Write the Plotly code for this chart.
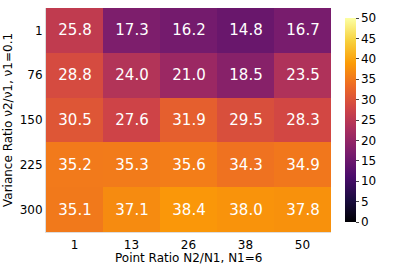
import plotly.graph_objects as go

x_labels = ["1", "13", "26", "38", "50"]
y_labels = ["1", "76", "150", "225", "300"]
values = [
    [25.8, 17.3, 16.2, 14.8, 16.7],
    [28.8, 24.0, 21.0, 18.5, 23.5],
    [30.5, 27.6, 31.9, 29.5, 28.3],
    [35.2, 35.3, 35.6, 34.3, 34.9],
    [35.1, 37.1, 38.4, 38.0, 37.8],
]
x_title = "Point Ratio N2/N1, N1=6"
y_title = "Variance Ratio ν2/ν1, ν1=0.1"

text = [[f"{v:.1f}" for v in row] for row in values]

fig = go.Figure(go.Heatmap(
    z=values, x=x_labels, y=y_labels,
    colorscale="Inferno", zmin=0, zmax=50,
    text=text, texttemplate="%{text}",
    textfont=dict(color="white", size=15, family="DejaVu Sans"),
    xgap=0, ygap=0,
    colorbar=dict(
        thickness=11, len=1.0, lenmode="fraction", x=1.0, xanchor="left", xpad=14,
        y=0.5, yanchor="middle",
        tickvals=list(range(0, 51, 5)), ticks="outside", ticklen=3,
        tickfont=dict(size=12, family="DejaVu Sans", color="black"),
        outlinewidth=0,
    ),
))

fig.update_layout(
    width=399, height=266,
    margin=dict(l=46, r=47, t=8, b=34),
    paper_bgcolor="white", plot_bgcolor="white",
    font=dict(family="DejaVu Sans", size=12, color="black"),
    xaxis=dict(showline=True, linecolor="#dddddd", linewidth=1, ticks="", showgrid=False,
               tickfont=dict(size=12), ticklabelstandoff=2, automargin=False),
    yaxis=dict(autorange="reversed",
               showline=True, linecolor="#dddddd", linewidth=1, ticks="", showgrid=False,
               tickfont=dict(size=12), automargin=False),
    annotations=[
        dict(text=x_title, xref="paper", yref="paper", x=0.5, y=0, yshift=-26,
             xanchor="center", yanchor="middle", showarrow=False, font=dict(size=12)),
        dict(text=y_title, xref="paper", yref="paper", x=0, y=0.5, xshift=-38,
             xanchor="center", yanchor="middle", textangle=-90, showarrow=False,
             font=dict(size=12)),
    ],
)

fig.write_html("out.html", config={"displayModeBar": False},
               post_script="document.body.style.margin='0';document.body.style.overflow='hidden';")
